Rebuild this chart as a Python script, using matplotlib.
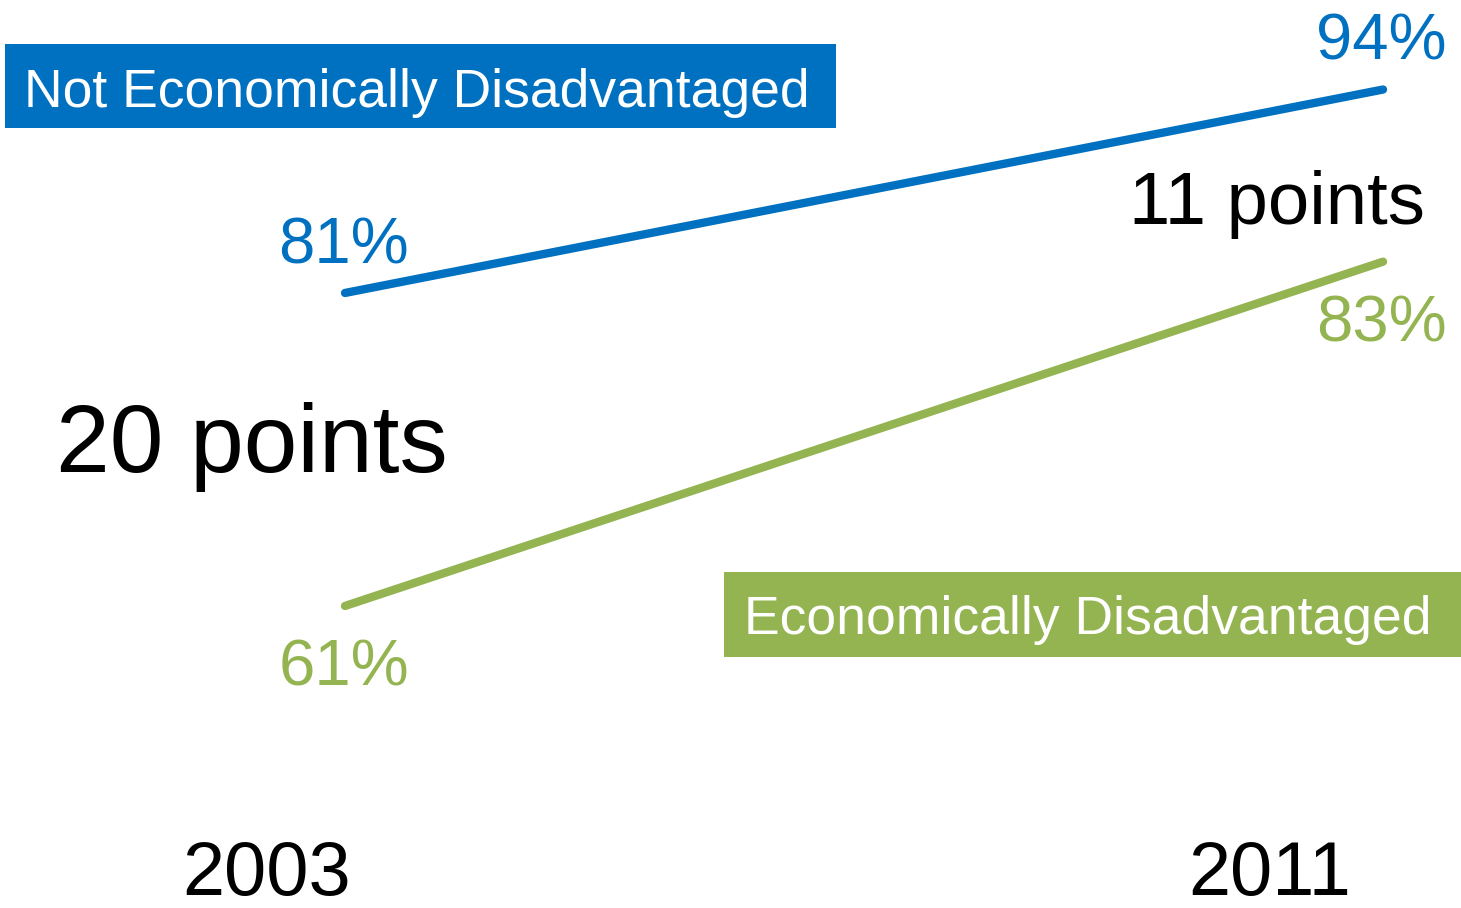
import matplotlib.pyplot as plt
from matplotlib.patches import Rectangle

plt.rcParams['font.family'] = ['Liberation Sans', 'DejaVu Sans']

years = [2003, 2011]
not_disadv = [81, 94]
disadv = [61, 83]
gap_labels = ['20 points', '11 points']
series_names = ['Not Economically Disadvantaged', 'Economically Disadvantaged']

blue = '#0070C0'
green = '#93B451'

W, H = 1461, 908
fig = plt.figure(figsize=(W / 100, H / 100), dpi=100)
ax = fig.add_axes([0, 0, 1, 1])
ax.set_xlim(2000.341, 2011.601)
ax.set_ylim(41.7, 99.72)
ax.axis('off')

ax.plot(years, not_disadv, color=blue, lw=6, solid_capstyle='round')
ax.plot(years, disadv, color=green, lw=6, solid_capstyle='round')

# value labels
for x, v in zip(years, not_disadv):
    ax.annotate(f'{v}%', (x, v), xytext=(-1, 21.5), textcoords='offset points',
                ha='center', va='baseline', fontsize=47, color=blue)
for x, v in zip(years, disadv):
    ax.annotate(f'{v}%', (x, v), xytext=(-1, -57.5), textcoords='offset points',
                ha='center', va='baseline', fontsize=47, color=green)

# year labels
fig.text(267 / W, 1 - 895 / H, str(years[0]), ha='center', va='baseline', fontsize=54.5)
fig.text(1270 / W, 1 - 895 / H, str(years[1]), ha='center', va='baseline', fontsize=54.5)

# gap labels
fig.text(56 / W, 1 - 472 / H, gap_labels[0], ha='left', va='baseline', fontsize=69.5)
fig.text(1129 / W, 1 - 224 / H, gap_labels[1], ha='left', va='baseline', fontsize=53.5)

# legend boxes
fig.add_artist(Rectangle((5 / W, 1 - 128 / H), 831 / W, 84 / H,
                         transform=fig.transFigure, color=blue, lw=0))
fig.text(24 / W, 1 - 107 / H, series_names[0], ha='left', va='baseline',
         fontsize=38.5, color='white')
fig.add_artist(Rectangle((724 / W, 1 - 657 / H), 737 / W, 85 / H,
                         transform=fig.transFigure, color=green, lw=0))
fig.text(1088 / W, 1 - 634 / H, series_names[1], ha='center', va='baseline',
         fontsize=38.5, color='white')

fig.savefig('out.png', dpi=100)
